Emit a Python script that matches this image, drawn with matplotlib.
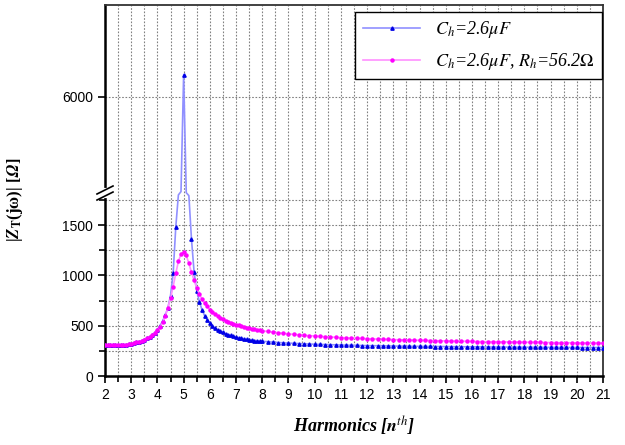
import numpy as np
import matplotlib
matplotlib.use("Agg")
import matplotlib.pyplot as plt
from matplotlib.ticker import FixedLocator, FuncFormatter

plt.rcParams["mathtext.fontset"] = "stix"

# harmonic grid: 0.1 steps up to 8, 0.2 steps for the tail
harm = np.round(np.concatenate([np.arange(2.0, 8.05, 0.1),
                                np.arange(8.2, 21.05, 0.2)]), 1)

# |Z_T| for C_h = 2.6 uF
z_ch_low = [310, 308, 306, 305, 305, 306, 307, 309, 312, 316,
            321, 327, 334, 342, 351, 361, 373, 388, 406, 430,
            462, 500, 548, 605, 680, 800, 1020, 1480, 2400, 4200,
            6220, 3600, 2000, 1360, 1030, 850, 740, 660, 600, 558,
            525, 498, 477, 460, 446, 433, 422, 412, 403, 395,
            388, 381, 375, 370, 365, 361, 357, 353, 350, 347,
            345]
z_ch_tail = [341, 337, 333, 330, 327, 325, 322, 320, 318, 316,
             314, 313, 311, 310, 308, 307, 306, 305, 303, 302,
             301, 301, 300, 299, 298, 297, 297, 296, 295, 295,
             294, 294, 293, 293, 292, 292, 291, 291, 290, 290,
             290, 289, 289, 288, 288, 288, 287, 287, 287, 286,
             286, 286, 285, 285, 285, 285, 284, 284, 284, 284,
             283, 283, 283, 283, 283]

# |Z_T| for C_h = 2.6 uF, R_h = 56.2 ohm
z_chrh_low = [312, 309, 307, 306, 306, 307, 308, 310, 313, 317,
              322, 328, 335, 343, 352, 362, 374, 388, 405, 427,
              455, 490, 535, 595, 680, 775, 890, 1020, 1140, 1215,
              1235, 1200, 1120, 1030, 950, 875, 815, 765, 725, 692,
              660, 636, 615, 597, 580, 565, 552, 540, 530, 520,
              512, 504, 496, 489, 482, 476, 470, 465, 460, 455,
              450]
z_chrh_tail = [443, 436, 430, 424, 419, 414, 410, 405, 401, 398,
               394, 391, 388, 385, 382, 380, 377, 375, 373, 371,
               369, 367, 365, 364, 362, 361, 359, 358, 356, 355,
               354, 353, 351, 350, 349, 348, 347, 346, 345, 344,
               343, 342, 341, 341, 340, 339, 338, 337, 337, 336,
               335, 335, 334, 333, 333, 332, 331, 331, 330, 330,
               329, 329, 328, 328, 327]

z_ch = z_ch_low + z_ch_tail
z_chrh = z_chrh_low + z_chrh_tail

y_major = [0, 500, 1000, 1500, 6000]
y_minor = [250, 750, 1250, 1750]

# broken y axis: lower segment 0..LOW_TOP, upper segment HIGH_BOT..top
LOW_TOP, HIGH_BOT, GAP = 1790.0, 5075.0, 60.0
SPAN = HIGH_BOT - LOW_TOP


def fwd(y):
    y = np.asarray(y, dtype=float)
    mid = LOW_TOP + (y - LOW_TOP) * GAP / SPAN
    return np.where(y <= LOW_TOP, y,
                    np.where(y >= HIGH_BOT, y - HIGH_BOT + LOW_TOP + GAP, mid))


def inv(v):
    v = np.asarray(v, dtype=float)
    mid = LOW_TOP + (v - LOW_TOP) * SPAN / GAP
    return np.where(v <= LOW_TOP, v,
                    np.where(v >= LOW_TOP + GAP, v - LOW_TOP - GAP + HIGH_BOT, mid))


def visible(vals):
    # no markers for points that fall inside the axis break
    return [i for i, v in enumerate(vals) if v <= LOW_TOP or v >= HIGH_BOT]


fig = plt.figure(figsize=(6.25, 4.45), dpi=100)
ax = fig.add_axes([105 / 625, 69 / 445, 498 / 625, 371 / 445])
ax.set_yscale("function", functions=(fwd, inv))

ax.plot(harm, z_ch, "-", color="#9090ff", lw=1.2, marker="^", ms=2.4,
        mfc="#0000e6", mec="#0000e6", markevery=visible(z_ch), zorder=3,
        label=r"$C_h$=2.6$\mu F$")
ax.plot(harm, z_chrh, "-", color="#ff90ff", lw=1.2, marker="o", ms=2.2,
        mfc="#ff00ff", mec="#ff00ff", markevery=visible(z_chrh), zorder=3,
        label=r"$C_h$=2.6$\mu F$, $R_h$=56.2$\mathit{\Omega}$")

ax.set_xlim(2, 21)
ax.set_ylim(0, 6915)
ax.xaxis.set_major_locator(FixedLocator(range(2, 22)))
ax.xaxis.set_minor_locator(FixedLocator(np.arange(2.5, 21, 1.0)))
ax.yaxis.set_major_locator(FixedLocator(y_major))
ax.yaxis.set_minor_locator(FixedLocator(y_minor))
ax.yaxis.set_major_formatter(FuncFormatter(lambda v, p: f"{v:.0f}"))
ax.yaxis.set_minor_formatter(FuncFormatter(lambda v, p: ""))

ax.grid(True, which="both", ls=(0, (1.5, 1.5)), color="#808080", lw=0.8)
ax.set_axisbelow(True)

ax.tick_params(which="both", direction="out", top=False, right=False,
               labelsize=10, width=1.2, color="black")
ax.tick_params(which="major", length=5)
ax.tick_params(which="minor", length=4)
for lab in ax.get_xticklabels() + ax.get_yticklabels():
    lab.set_family("Liberation Sans")

for s in ("top", "right"):
    ax.spines[s].set_color("#333333")
    ax.spines[s].set_linewidth(1.3)
for s in ("left", "bottom"):
    ax.spines[s].set_color("black")
    ax.spines[s].set_linewidth(1.8)

# axis break on the left spine
total = float(fwd(6915))
y_lo = LOW_TOP / total
y_hi = (LOW_TOP + GAP) / total
ax.plot([0, 0], [y_lo, y_hi], color="white", lw=3, transform=ax.transAxes,
        clip_on=False, zorder=5)
dx, dy = 8 / 498, 4 / 371
for yb in (y_lo, y_hi):
    ax.plot([-dx, dx], [yb - dy, yb + dy], color="black", lw=1.2,
            transform=ax.transAxes, clip_on=False, zorder=6)

ax.set_ylabel("|$\\mathbfit{Z}_{\\mathbf{T}}$(j\u03c9)| [$\\mathbfit{\\Omega}$]",
              family="Liberation Serif", fontweight="bold", fontsize=12)
ax.yaxis.set_label_coords(-0.16, 0.474)
ax.set_xlabel(r"Harmonics [$\mathbfit{n}^{\mathit{th}}$]",
              family="Liberation Serif", fontweight="bold", style="italic",
              fontsize=13)
ax.xaxis.set_label_coords(0.5, -0.105)

leg = ax.legend(loc="upper right", bbox_to_anchor=(0.998, 0.981),
                borderaxespad=0, fancybox=False, framealpha=1,
                edgecolor="black", handlelength=3.2, labelspacing=0.6,
                prop={"family": "Liberation Serif", "style": "italic",
                      "size": 13})
leg.get_frame().set_linewidth(1.0)

fig.savefig("out.png", dpi=100)
